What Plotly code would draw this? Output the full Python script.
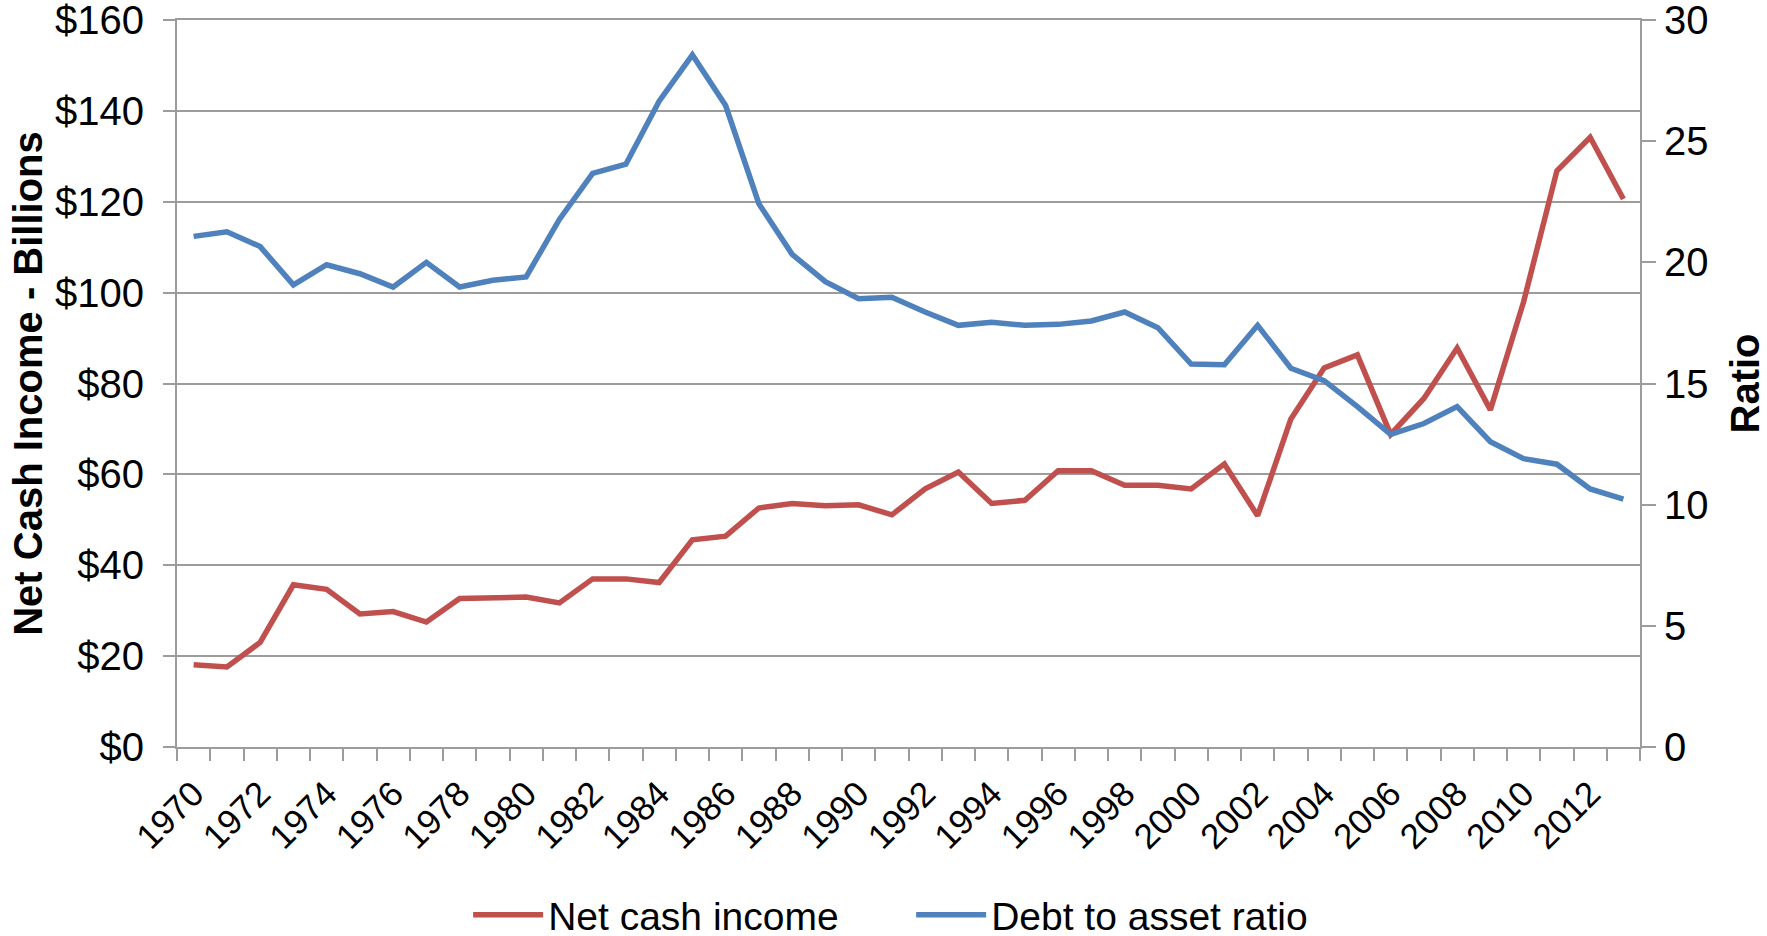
import plotly.graph_objects as go

years = list(range(1970, 2014))
net_cash_income = [18.1, 17.6, 23.0, 35.7, 34.7, 29.3, 29.8, 27.5, 32.7, 32.7,
                   33.0, 31.7, 37.0, 37.0, 36.2, 45.6, 46.4, 52.6, 53.6, 53.1,
                   53.3, 51.1, 56.8, 60.5, 53.6, 54.3, 60.8, 60.8, 57.6, 57.6,
                   56.8, 62.3, 50.9, 72.2, 83.4, 86.3, 68.8, 76.7, 87.8, 74.2,
                   98.0, 126.8, 134.2, 120.6]
debt_to_asset = [21.07, 21.26, 20.65, 19.07, 19.90, 19.53, 18.98, 20.00, 18.98, 19.26,
                 19.40, 21.77, 23.67, 24.05, 26.65, 28.56, 26.47, 22.42, 20.33, 19.20,
                 18.50, 18.56, 17.95, 17.40, 17.53, 17.40, 17.44, 17.58, 17.95, 17.30,
                 15.80, 15.77, 17.40, 15.63, 15.12, 14.05, 12.90, 13.35, 14.05, 12.60,
                 11.90, 11.67, 10.65, 10.23]
label_years = list(range(1970, 2013, 2))
left_ticks = [0, 20, 40, 60, 80, 100, 120, 140, 160]
right_ticks = [0, 5, 10, 15, 20, 25, 30]

FONT = "Liberation Sans, Arial, sans-serif"
GRID = "#9C9C9C"

fig = go.Figure()
fig.add_trace(go.Scatter(x=years, y=net_cash_income, name="Net cash income",
                         mode="lines", line=dict(color="#C0504D", width=5.5)))
fig.add_trace(go.Scatter(x=years, y=debt_to_asset, name="Debt to asset ratio",
                         mode="lines", line=dict(color="#4F81BD", width=5.5),
                         yaxis="y2"))

fig.update_layout(
    width=1767, height=936,
    margin=dict(l=177, r=127, t=20, b=189, autoexpand=False),
    paper_bgcolor="white", plot_bgcolor="white",
    font=dict(family=FONT, size=39, color="black"),
    showlegend=True,
    legend=dict(orientation="h", x=0.199, xanchor="left", y=-0.231, yanchor="middle",
                font=dict(size=39), bgcolor="rgba(0,0,0,0)",
                itemwidth=70, entrywidth=358, entrywidthmode="pixels"),
    xaxis=dict(
        range=[1969.5, 2013.5], automargin=False,
        tickmode="array", tickvals=label_years, ticktext=[str(y) for y in label_years],
        tickangle=-45, ticks="", ticklabelstandoff=10, ticklabeloverflow="allow",
        showgrid=False, zeroline=False,
        showline=True, linecolor=GRID, linewidth=2, mirror=True,
        minor=dict(tickmode="array", tickvals=[y - 0.5 for y in years] + [2013.5],
                   ticks="outside", ticklen=12, tickcolor=GRID, tickwidth=2,
                   showgrid=False),
        tickfont=dict(size=35),
    ),
    yaxis=dict(
        range=[0, 160], automargin=False, tickmode="array", tickvals=left_ticks,
        ticktext=["$" + str(v) for v in left_ticks],
        ticks="outside", ticklen=12, tickcolor=GRID, tickwidth=2,
        ticklabelstandoff=11, ticklabeloverflow="allow",
        showgrid=True, gridcolor=GRID, gridwidth=2, zeroline=False,
        showline=True, linecolor=GRID, linewidth=2,
        title=dict(text="<b>Net Cash Income - Billions</b>", font=dict(size=40), standoff=0),
        tickfont=dict(size=40),
    ),
    yaxis2=dict(
        range=[0, 30], automargin=False, tickmode="array", tickvals=right_ticks,
        overlaying="y", side="right",
        ticks="outside", ticklen=14, tickcolor=GRID, tickwidth=2,
        ticklabelstandoff=0, ticklabeloverflow="allow",
        showgrid=False, zeroline=False,
        showline=True, linecolor=GRID, linewidth=2,
        title=dict(text="<b>Ratio</b>", font=dict(size=40), standoff=40),
        tickfont=dict(size=40),
    ),
)

fig.write_html("out.html", config={"displayModeBar": False},
               post_script="document.body.style.margin='0';document.body.style.overflow='hidden';")
